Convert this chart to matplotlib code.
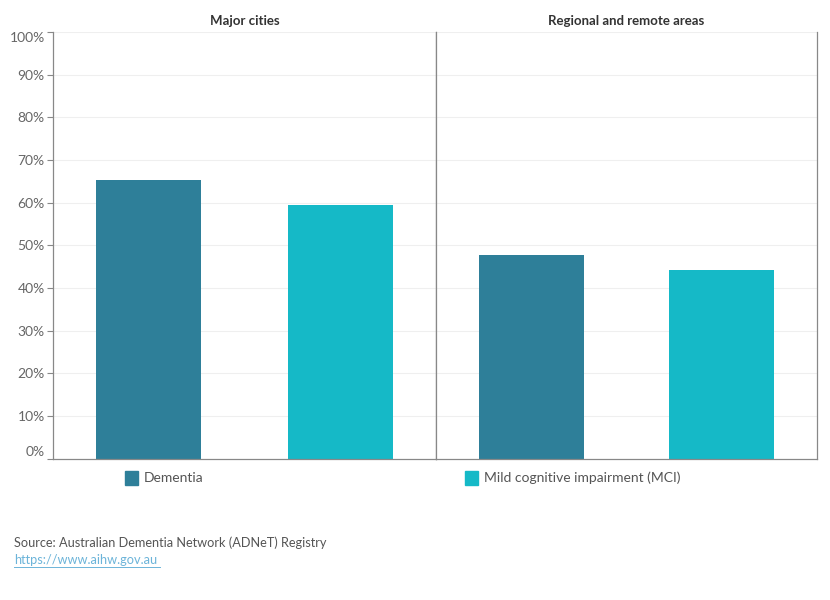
import matplotlib.pyplot as plt
from matplotlib.patches import Rectangle

# data
panels = ["Major cities", "Regional and remote areas"]
groups = ["Dementia", "Mild cognitive impairment (MCI)"]
values = {
    "Major cities": [65.3, 59.4],
    "Regional and remote areas": [47.6, 44.1],
}
yticks = list(range(0, 101, 10))
colors = ["#2e7f99", "#15b9c7"]

plt.rcParams['font.family'] = ['Lato', 'DejaVu Sans']

fig = plt.figure(figsize=(8.3, 6.0), dpi=100)
W, H = 830, 600

def px_axes(x0, y0, x1, y1):
    return fig.add_axes([x0 / W, 1 - y1 / H, (x1 - x0) / W, (y1 - y0) / H])

ax1 = px_axes(53, 32, 436, 458.5)
ax2 = px_axes(436, 32, 817, 458.5)

for i, (ax, name) in enumerate(zip([ax1, ax2], panels)):
    ax.bar([0, 1], values[name], width=0.55, color=colors, zorder=2)
    ax.set_xlim(-0.5, 1.5)
    ax.set_ylim(0, 100)
    ax.set_yticks(yticks)
    for y in yticks[1:]:
        ax.axhline(y, color="#efefef", lw=0.8, zorder=0)
    ax.set_xticks([])
    ax.spines["top"].set_visible(False)
    for s in ["left", "bottom", "right"]:
        ax.spines[s].set_color("#888888")
        ax.spines[s].set_linewidth(0.9)
    ax.set_title(name, fontsize=9.5, fontweight="bold", color="#333333", pad=5)
    if i == 0:
        ax.set_yticklabels([f"{t}%" for t in yticks], fontsize=10, color="#666666")
        ax.tick_params(axis="y", length=4, color="#888888", pad=2)
        labels = ax.get_yticklabels()
        labels[0].set_va("bottom")
        labels[-1].set_va("top")
    else:
        ax.tick_params(axis="y", length=0, labelleft=False)

# legend
for (lx, tx), label, c in zip([(125, 144), (465, 484)], groups, colors):
    fig.patches.append(Rectangle((lx / W, 1 - 485 / H), 13 / W, 14 / H,
                                 transform=fig.transFigure, color=c))
    fig.text(tx / W, 1 - 478 / H, label, fontsize=10, color="#555555", va="center")

fig.text(14 / W, 1 - 543 / H, "Source: Australian Dementia Network (ADNeT) Registry",
         fontsize=9.2, color="#555555", va="center")
link = fig.text(14 / W, 1 - 560 / H, "https://www.aihw.gov.au", fontsize=9.2,
                color="#6cb4d9", va="center")
link.set_url("https://www.aihw.gov.au")
fig.add_artist(plt.Line2D([14 / W, 160 / W], [1 - 567 / H, 1 - 567 / H],
                          color="#6cb4d9", lw=0.7))

fig.savefig("out.png", dpi=100)
